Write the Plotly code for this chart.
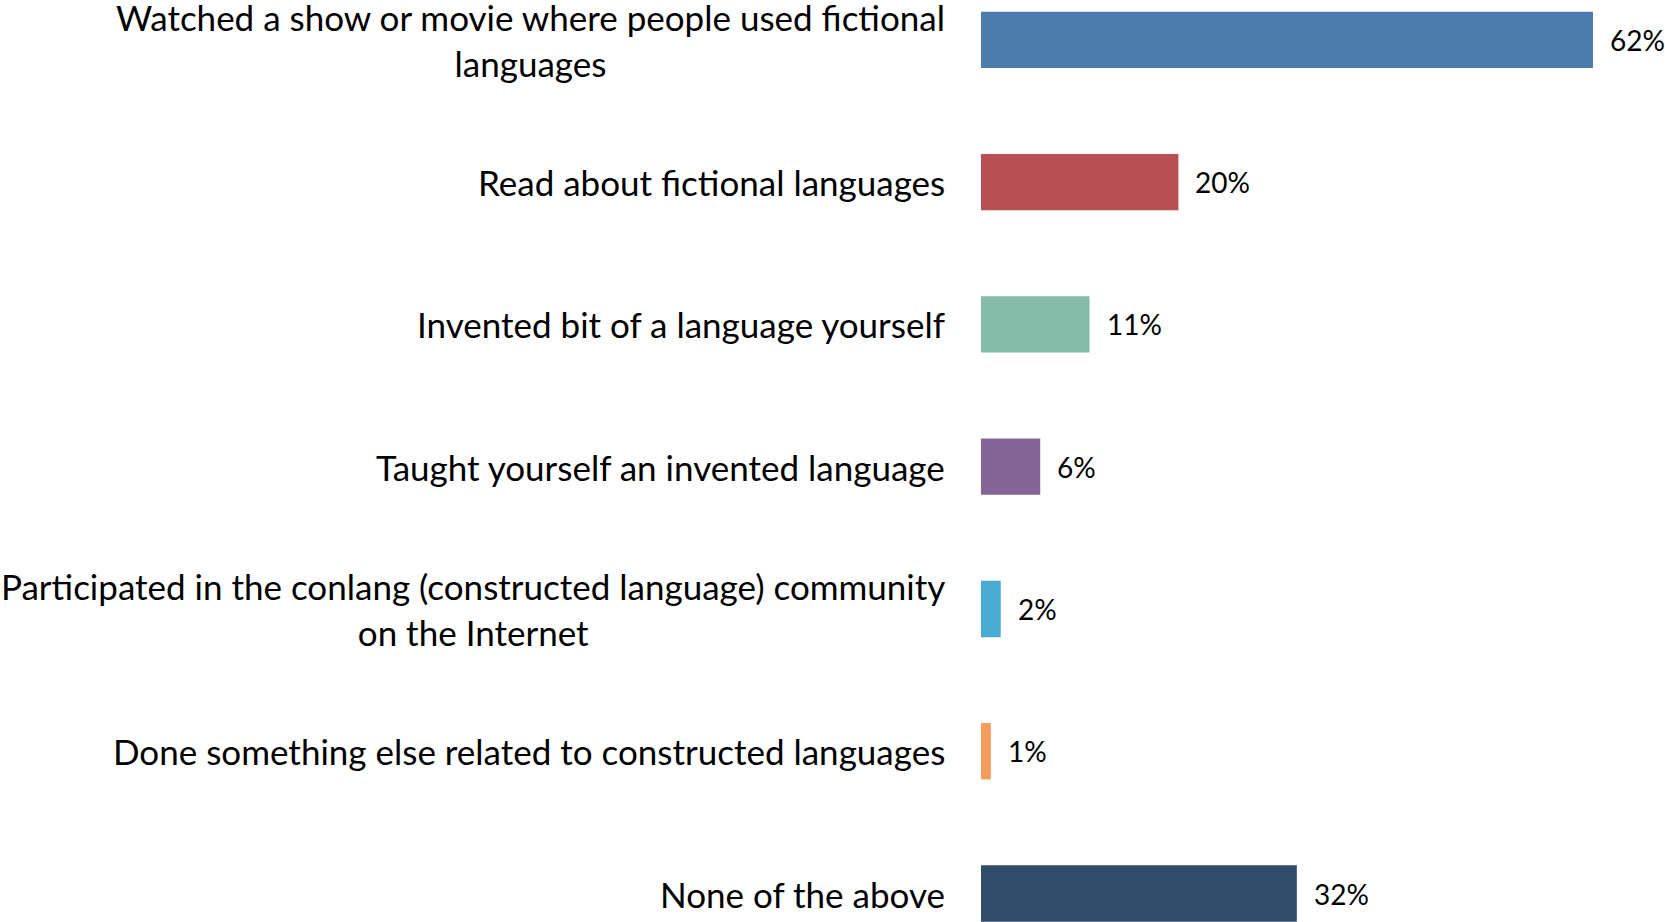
import plotly.graph_objects as go

categories = [
    "Watched a show or movie where people used fictional<br>languages",
    "Read about fictional languages",
    "Invented bit of a language yourself",
    "Taught yourself an invented language",
    "Participated in the conlang (constructed language) community<br>on the Internet",
    "Done something else related to constructed languages",
    "None of the above",
]
values = [62, 20, 11, 6, 2, 1, 32]
colors = ["#4A7BAB", "#B84F53", "#86BBA9", "#836495", "#4AABD2", "#F29D5B", "#324D6B"]

LABEL_FONT = "Lato"

fig = go.Figure()
fig.add_trace(go.Bar(
    x=values,
    y=list(range(len(categories))),
    orientation="h",
    marker=dict(color=colors, line=dict(width=0)),
    width=0.396,
    hoverinfo="skip",
))

annotations = []
for i, (c, v) in enumerate(zip(categories, values)):
    annotations.append(dict(
        x=0, y=i, xref="paper", yref="y", text=c, showarrow=False,
        xanchor="right", yanchor="middle", align="center", xshift=-34,
        font=dict(family=LABEL_FONT, size=35, color="#000000"),
    ))
    annotations.append(dict(
        x=v, y=i, xref="x", yref="y", text=f"{v}%", showarrow=False,
        xanchor="left", yanchor="middle", xshift=15,
        font=dict(family=LABEL_FONT, size=28, color="#000000"),
    ))

fig.update_layout(
    width=1665, height=922,
    margin=dict(l=981, r=0, t=0, b=0),
    paper_bgcolor="white", plot_bgcolor="white",
    showlegend=False,
    annotations=annotations,
    xaxis=dict(range=[0, 69.3], visible=False, fixedrange=True),
    yaxis=dict(range=[6.2, -0.28], visible=False, fixedrange=True),
)

fig.write_html(
    "out.html",
    config={"displayModeBar": False, "staticPlot": True},
    post_script="document.body.style.margin='0';document.body.style.overflow='hidden';",
)
